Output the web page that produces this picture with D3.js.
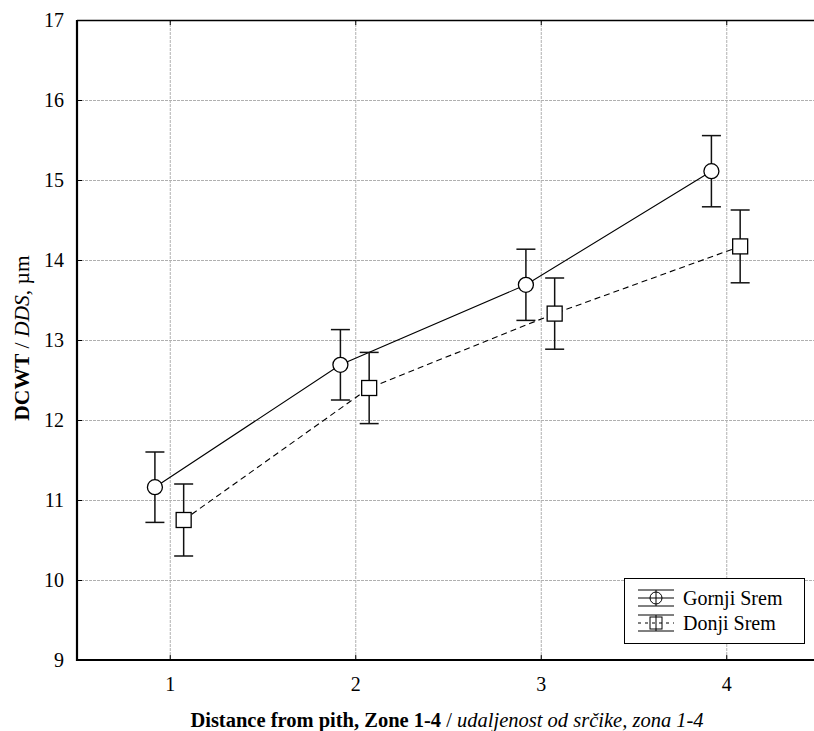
<!DOCTYPE html>
<html>
<head>
<meta charset="utf-8">
<script src="https://cdn.jsdelivr.net/npm/d3@7"></script>
<style>
  body { margin: 0; background: #fff; }
  text { font-family: "Liberation Serif", "Times New Roman", serif; }
</style>
</head>
<body>
<svg width="814" height="731"></svg>
<script>
// zones on the x axis
var zones = [1, 2, 3, 4];
var yTicks = [9, 10, 11, 12, 13, 14, 15, 16, 17];

// Gornji Srem: mean and half-width of the error bar
var gornjiMean = [11.16, 12.69, 13.69, 15.11];
var gornjiErr = [0.44, 0.44, 0.445, 0.445];

// Donji Srem
var donjiMean = [10.75, 12.40, 13.33, 14.17];
var donjiErr = [0.45, 0.445, 0.445, 0.455];

var svg = d3.select("svg"),
  plotL = 77, plotT = 20, plotB = 660, plotR = 819;

var x = d3.scaleLinear().domain([0.5, 4.5]).range([plotL, plotR]);
var y = d3.scaleLinear().domain([9, 17]).range([plotB, plotT]);

// grid
var grid = svg.append("g")
  .attr("stroke", "#b0b0b0")
  .attr("stroke-width", 1)
  .attr("stroke-dasharray", "3,1");
grid.selectAll(".gx").data(zones).enter().append("line")
  .attr("x1", function (d) { return x(d) + 0.5; })
  .attr("x2", function (d) { return x(d) + 0.5; })
  .attr("y1", plotT).attr("y2", plotB);
grid.selectAll(".gy").data(yTicks.slice(1, -1)).enter().append("line")
  .attr("x1", plotL).attr("x2", plotR)
  .attr("y1", function (d) { return y(d) + 0.5; })
  .attr("y2", function (d) { return y(d) + 0.5; });

// inward ticks
var ticks = svg.append("g").attr("stroke", "#000").attr("stroke-width", 1);
ticks.selectAll(".tb").data(zones).enter().append("line")
  .attr("x1", function (d) { return x(d) + 0.5; })
  .attr("x2", function (d) { return x(d) + 0.5; })
  .attr("y1", plotB).attr("y2", plotB - 5);
ticks.selectAll(".tt").data(zones).enter().append("line")
  .attr("x1", function (d) { return x(d) + 0.5; })
  .attr("x2", function (d) { return x(d) + 0.5; })
  .attr("y1", plotT).attr("y2", plotT + 5);
ticks.selectAll(".tl").data(yTicks).enter().append("line")
  .attr("x1", plotL).attr("x2", plotL + 5)
  .attr("y1", function (d) { return y(d) + 0.5; })
  .attr("y2", function (d) { return y(d) + 0.5; });

// frame
svg.append("line").attr("x1", plotL).attr("x2", plotR).attr("y1", plotT + 0.5).attr("y2", plotT + 0.5)
  .attr("stroke", "#000").attr("stroke-width", 1.5);
svg.append("line").attr("x1", plotL).attr("x2", plotL).attr("y1", plotT).attr("y2", plotB + 1)
  .attr("stroke", "#000").attr("stroke-width", 2.2);
svg.append("line").attr("x1", plotL - 1).attr("x2", plotR).attr("y1", plotB).attr("y2", plotB)
  .attr("stroke", "#000").attr("stroke-width", 2.2);

// tick labels
svg.selectAll(".yl").data(yTicks).enter().append("text")
  .attr("x", 64).attr("y", function (d) { return y(d) + 7; })
  .attr("text-anchor", "end")
  .style("font-size", "20px")
  .text(function (d) { return d; });
svg.selectAll(".xl").data(zones).enter().append("text")
  .attr("x", function (d) { return x(d) + 0.5; }).attr("y", 691)
  .attr("text-anchor", "middle")
  .style("font-size", "20px")
  .text(function (d) { return d; });

// axis titles
var xt = svg.append("text").attr("x", 447).attr("y", 727)
  .attr("text-anchor", "middle").style("font-size", "20.5px");
xt.append("tspan").attr("font-weight", "bold").text("Distance from pith, Zone 1-4");
xt.append("tspan").text(" / ");
xt.append("tspan").attr("font-style", "italic").text("udaljenost od srčike, zona 1-4");

var yt = svg.append("text")
  .attr("transform", "translate(29," + 338 + ") rotate(-90)")
  .attr("text-anchor", "middle").style("font-size", "21.5px");
yt.append("tspan").attr("font-weight", "bold").text("DCWT");
yt.append("tspan").text(" / ");
yt.append("tspan").attr("font-style", "italic").text("DDS");
yt.append("tspan").text(", µm");

var series = [
  { name: "Gornji Srem", mean: gornjiMean, err: gornjiErr, offset: -0.08, dash: null, shape: "circle" },
  { name: "Donji Srem", mean: donjiMean, err: donjiErr, offset: 0.075, dash: "6,4", shape: "square" }
];

var line = d3.line()
  .x(function (d) { return d.x; })
  .y(function (d) { return d.y; });

series.forEach(function (s) {
  var pts = zones.map(function (z, i) {
    return { x: x(z + s.offset), y: y(s.mean[i]), hi: y(s.mean[i] + s.err[i]), lo: y(s.mean[i] - s.err[i]) };
  });
  var g = svg.append("g");
  g.append("path").attr("d", line(pts))
    .attr("fill", "none").attr("stroke", "#000").attr("stroke-width", 1.1)
    .attr("stroke-dasharray", s.dash);
  var eb = g.selectAll(".eb").data(pts).enter().append("g")
    .attr("stroke", "#111").attr("stroke-width", 1.5);
  eb.append("line")
    .attr("x1", function (d) { return d.x; }).attr("x2", function (d) { return d.x; })
    .attr("y1", function (d) { return d.hi; }).attr("y2", function (d) { return d.lo; });
  eb.append("line")
    .attr("x1", function (d) { return d.x - 9.5; }).attr("x2", function (d) { return d.x + 9.5; })
    .attr("y1", function (d) { return d.hi; }).attr("y2", function (d) { return d.hi; });
  eb.append("line")
    .attr("x1", function (d) { return d.x - 9.5; }).attr("x2", function (d) { return d.x + 9.5; })
    .attr("y1", function (d) { return d.lo; }).attr("y2", function (d) { return d.lo; });
  if (s.shape === "circle") {
    g.selectAll(".m").data(pts).enter().append("circle")
      .attr("cx", function (d) { return d.x; }).attr("cy", function (d) { return d.y; })
      .attr("r", 7.5).attr("fill", "#fff").attr("stroke", "#000").attr("stroke-width", 1.3);
  } else {
    g.selectAll(".m").data(pts).enter().append("rect")
      .attr("x", function (d) { return d.x - 7.5; }).attr("y", function (d) { return d.y - 7.5; })
      .attr("width", 15).attr("height", 15)
      .attr("fill", "#fff").attr("stroke", "#000").attr("stroke-width", 1.3);
  }
});

// legend
var lg = svg.append("g");
lg.append("rect").attr("x", 624.5).attr("y", 578.5).attr("width", 180).attr("height", 65)
  .attr("fill", "#fff").attr("stroke", "#000").attr("stroke-width", 1);
series.forEach(function (s, i) {
  var cy = 598 + i * 25, cx = 656;
  var item = lg.append("g").attr("stroke", "#000").attr("stroke-width", 1);
  item.append("line").attr("x1", cx - 18).attr("x2", cx + 18).attr("y1", cy).attr("y2", cy)
    .attr("stroke-dasharray", s.dash ? "3,4" : null);
  item.append("line").attr("x1", cx - 18).attr("x2", cx + 18).attr("y1", cy - 8).attr("y2", cy - 8);
  item.append("line").attr("x1", cx - 18).attr("x2", cx + 18).attr("y1", cy + 8).attr("y2", cy + 8);
  if (s.shape === "circle") {
    item.append("circle").attr("cx", cx).attr("cy", cy).attr("r", 6).attr("fill", "none");
  } else {
    item.append("rect").attr("x", cx - 6).attr("y", cy - 6).attr("width", 12).attr("height", 12).attr("fill", "none");
  }
  item.append("line").attr("x1", cx).attr("x2", cx).attr("y1", cy - 8).attr("y2", cy + 8);
  lg.append("text").attr("x", 683).attr("y", cy + 7).style("font-size", "20px").text(s.name);
});
</script>
</body>
</html>
